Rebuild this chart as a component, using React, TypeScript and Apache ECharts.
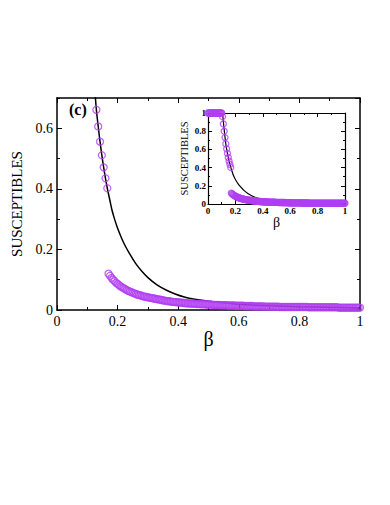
import React, { useEffect, useRef } from "react";
import * as echarts from "echarts";

// Upper branch of the simulated susceptibles (open circles)
const upperBeta = [
  0.0, 0.005, 0.01, 0.015, 0.02, 0.025, 0.03, 0.035, 0.04, 0.045, 0.05,
  0.055, 0.06, 0.065, 0.07, 0.075, 0.08, 0.085, 0.09, 0.095, 0.1,
  0.106, 0.112, 0.118, 0.124, 0.13, 0.136, 0.142, 0.148, 0.154, 0.16, 0.166,
];
const upperS = [
  1, 1, 1, 1, 1, 1, 1, 1, 1, 1, 1,
  1, 1, 1, 1, 1, 1, 1, 1, 1, 1,
  0.96, 0.88, 0.8, 0.73, 0.661, 0.606, 0.556, 0.511, 0.471, 0.435, 0.402,
];

// Lower branch: beta from 0.170 to 1.000 in steps of 0.005
const lowerStart = 0.17;
const lowerStep = 0.005;
const lowerS = [
  0.12, 0.113, 0.106, 0.1, 0.095, 0.09, 0.086, 0.082, 0.078, 0.075,
  0.072, 0.069, 0.066, 0.063, 0.061, 0.059, 0.057, 0.055, 0.053, 0.051,
  0.05, 0.048, 0.047, 0.045, 0.044, 0.043, 0.042, 0.041, 0.04, 0.039,
  0.038, 0.037, 0.036, 0.035, 0.034, 0.033, 0.032, 0.031, 0.03, 0.029,
  0.029, 0.028, 0.027, 0.027, 0.026, 0.026, 0.025,
  0.025, 0.024, 0.024, 0.023, 0.023, 0.022, 0.022, 0.022, 0.021, 0.021,
  0.021, 0.02, 0.02, 0.02, 0.019, 0.019, 0.019, 0.019, 0.018, 0.018,
  0.018, 0.018, 0.017, 0.017, 0.017, 0.017, 0.017, 0.016, 0.016, 0.016,
  0.016, 0.016, 0.015, 0.015, 0.015, 0.015, 0.015, 0.014, 0.014, 0.014,
  0.014, 0.014, 0.014, 0.013, 0.013, 0.013, 0.013, 0.013, 0.013, 0.012,
  0.012, 0.012, 0.012, 0.012, 0.012, 0.012, 0.011, 0.011, 0.011, 0.011,
  0.011, 0.011, 0.011, 0.011, 0.011, 0.011, 0.01, 0.01, 0.01, 0.01,
  0.01, 0.01, 0.01, 0.01, 0.01, 0.01, 0.01, 0.01, 0.01, 0.01,
  0.01, 0.01, 0.01, 0.01, 0.01, 0.009, 0.009, 0.009, 0.009, 0.009,
  0.009, 0.009, 0.009, 0.009, 0.009, 0.009, 0.009, 0.009, 0.009, 0.009,
  0.009, 0.009, 0.009, 0.009, 0.009, 0.008, 0.008, 0.008, 0.008, 0.008,
  0.008, 0.008, 0.008, 0.008, 0.008, 0.008, 0.008, 0.008, 0.008, 0.008,
];

// Theoretical curve (solid black line)
const curveBeta = [
  0.106, 0.11, 0.115, 0.12, 0.126, 0.13, 0.136, 0.142, 0.148, 0.154, 0.16,
  0.166, 0.175, 0.181, 0.19, 0.2, 0.22, 0.24, 0.26, 0.28, 0.3, 0.33, 0.36,
  0.39, 0.42, 0.45, 0.5, 0.55, 0.6, 0.7, 0.8, 0.9, 1.0,
];
const curveS = [
  1.0, 0.94, 0.86, 0.79, 0.71, 0.661, 0.606, 0.556, 0.511, 0.471, 0.435,
  0.402, 0.36, 0.332, 0.3, 0.27, 0.222, 0.185, 0.153, 0.128, 0.107, 0.083, 0.066,
  0.053, 0.043, 0.036, 0.029, 0.024, 0.019, 0.014, 0.011, 0.009, 0.007,
];

const PURPLE = "#b13ff2";
const FONT = "'Liberation Serif', 'DejaVu Serif', serif";

export default function App() {
  const ref = useRef<HTMLDivElement>(null);
  useEffect(() => {
    if (!ref.current) return;
    const chart = echarts.init(ref.current, undefined, { renderer: "svg" });

    const upper = upperBeta.map((b, i) => [b, upperS[i]]);
    const lower = lowerS.map((s, i) => [+(lowerStart + i * lowerStep).toFixed(3), s]);
    const curve = curveBeta.map((b, i) => [b, curveS[i]]);

    const line = (w: number) => ({ show: true, onZero: false, lineStyle: { color: "#000", width: w } });

    const xMain = (pos: "bottom" | "top", labels: boolean) => ({
      type: "value",
      gridIndex: 0,
      position: pos,
      min: 0,
      max: 1,
      interval: 0.2,
      axisLine: line(1.5),
      axisTick: { show: true, inside: true, length: 5, lineStyle: { color: "#000", width: 1 } },
      minorTick: { show: true, splitNumber: 2, length: 3, lineStyle: { color: "#000", width: 1 } },
      splitLine: { show: false },
      minorSplitLine: { show: false },
      axisLabel: { show: labels, color: "#000", fontSize: 14, fontFamily: FONT, margin: 4 },
      ...(labels
        ? {
            name: "β",
            nameLocation: "middle",
            nameGap: 6,
            nameTextStyle: { color: "#000", fontSize: 20, fontFamily: FONT },
          }
        : {}),
    });

    const xInset = (pos: "bottom" | "top", labels: boolean) => ({
      type: "value",
      gridIndex: 1,
      position: pos,
      min: 0,
      max: 1,
      interval: 0.2,
      axisLine: line(1.2),
      axisTick: { show: true, inside: true, length: 4, lineStyle: { color: "#000", width: 1 } },
      minorTick: { show: true, splitNumber: 2, length: 2, lineStyle: { color: "#000", width: 1 } },
      splitLine: { show: false },
      axisLabel: { show: labels, color: "#000", fontSize: 9, fontWeight: "bold", fontFamily: FONT, margin: 2 },
      ...(labels
        ? {
            name: "β",
            nameLocation: "middle",
            nameGap: 11,
            nameTextStyle: { color: "#000", fontSize: 14, fontFamily: FONT },
          }
        : {}),
    });

    const yMainMajor = (pos: "left" | "right", labels: boolean) => ({
      type: "value",
      gridIndex: 0,
      position: pos,
      min: 0,
      max: 0.7,
      interval: 0.2,
      axisLine: line(1.5),
      axisTick: { show: true, inside: true, length: 5, lineStyle: { color: "#000", width: 1 } },
      splitLine: { show: false },
      axisLabel: {
        show: labels,
        showMaxLabel: false,
        color: "#000",
        fontSize: 14,
        fontFamily: FONT,
        margin: 4,
      },
      ...(labels
        ? {
            name: "SUSCEPTIBLES",
            nameLocation: "middle",
            nameRotate: 90,
            nameGap: 21,
            nameTextStyle: { color: "#000", fontSize: 15, fontFamily: FONT },
          }
        : {}),
    });

    const yMainMinor = (pos: "left" | "right") => ({
      type: "value",
      gridIndex: 0,
      position: pos,
      min: 0,
      max: 0.7,
      interval: 0.1,
      axisLine: { show: false, onZero: false },
      axisTick: { show: true, inside: true, length: 3, lineStyle: { color: "#000", width: 1 } },
      splitLine: { show: false },
      axisLabel: { show: false },
    });

    const yInset = (pos: "left" | "right", labels: boolean) => ({
      type: "value",
      gridIndex: 1,
      position: pos,
      min: 0,
      max: 1,
      interval: 0.2,
      axisLine: line(1.2),
      axisTick: { show: true, inside: true, length: 4, lineStyle: { color: "#000", width: 1 } },
      minorTick: { show: true, splitNumber: 2, length: 2, lineStyle: { color: "#000", width: 1 } },
      splitLine: { show: false },
      axisLabel: { show: labels, color: "#000", fontSize: 9, fontWeight: "bold", fontFamily: FONT, margin: 2 },
      ...(labels
        ? {
            name: "SUSCEPTIBLES",
            nameLocation: "middle",
            nameRotate: 90,
            nameGap: 18,
            nameTextStyle: { color: "#000", fontSize: 10.5, fontFamily: FONT },
          }
        : {}),
    });

    const scatter = (data: number[][], xi: number, yi: number, size: number) => ({
      type: "scatter",
      xAxisIndex: xi,
      yAxisIndex: yi,
      data,
      symbol: "circle",
      symbolSize: size,
      clip: true,
      itemStyle: { color: "rgba(0,0,0,0)", borderColor: PURPLE, borderWidth: 1.3 },
      emphasis: { disabled: true },
      z: 3,
    });

    const curveSeries = (xi: number, yi: number, w: number) => ({
      type: "line",
      xAxisIndex: xi,
      yAxisIndex: yi,
      data: curve,
      showSymbol: false,
      symbol: "none",
      smooth: 0.3,
      clip: true,
      lineStyle: { color: "#000", width: w },
      z: 2,
    });

    chart.setOption({
      animation: false,
      backgroundColor: "#fff",
      grid: [
        { left: 57, top: 98, width: 303, height: 212, containLabel: false },
        { left: 208, top: 113, width: 137, height: 91, containLabel: false },
      ],
      xAxis: [xMain("bottom", true), xMain("top", false), xInset("bottom", true), xInset("top", false)],
      yAxis: [
        yMainMajor("left", true),
        yMainMinor("left"),
        yMainMajor("right", false),
        yMainMinor("right"),
        yInset("left", true),
        yInset("right", false),
      ],
      graphic: [
        {
          type: "text",
          left: 69,
          top: 101,
          style: { text: "(c)", fill: "#000", font: `bold 16px ${FONT}` },
        },
      ],
      series: [
        curveSeries(0, 0, 1.5),
        scatter(upper, 0, 0, 7),
        scatter(lower, 0, 0, 7),
        curveSeries(2, 4, 1.2),
        scatter(upper, 2, 4, 6),
        scatter(lower, 2, 4, 6),
      ],
    });
    return () => chart.dispose();
  }, []);
  return (
    <div
      ref={ref}
      style={{ position: "fixed", left: 0, top: 0, width: 390, height: 505, background: "#fff" }}
    />
  );
}
